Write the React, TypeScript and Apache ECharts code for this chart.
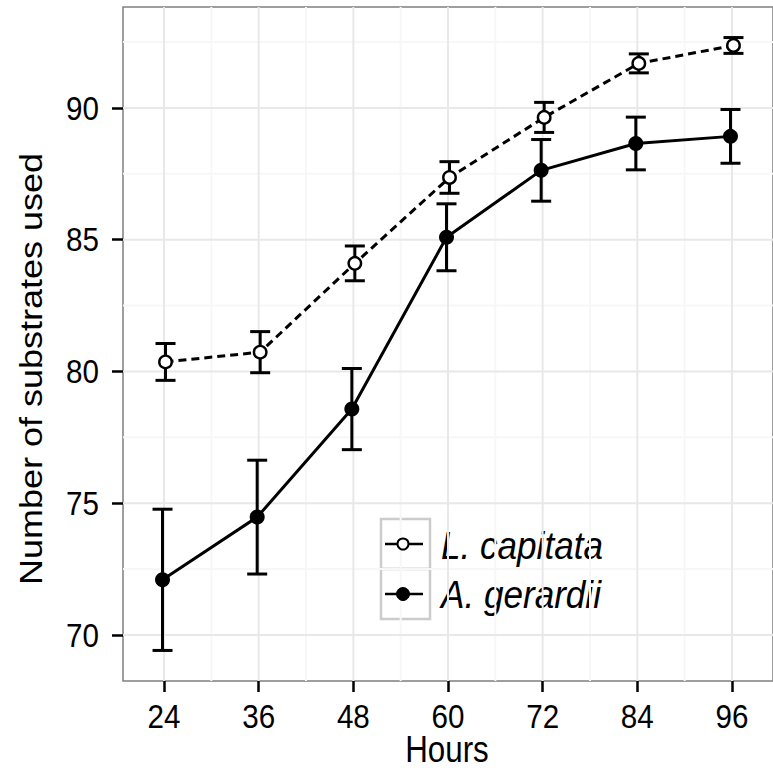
import React, { useEffect, useRef } from "react";
import * as echarts from "echarts";

const hours = [24, 36, 48, 60, 72, 84, 96];
const seriesNames = ["L. capitata", "A. gerardii"];
const capitataMean = [80.36, 80.73, 84.1, 87.36, 89.64, 91.69, 92.37];
const capitataErr = [0.7, 0.78, 0.66, 0.6, 0.57, 0.36, 0.3];
const gerardiiMean = [72.09, 74.47, 78.57, 85.09, 87.63, 88.65, 88.92];
const gerardiiErr = [2.68, 2.16, 1.54, 1.27, 1.17, 1.0, 1.02];
const yTicks = [70, 75, 80, 85, 90];
const xTitle = "Hours";
const yTitle = "Number of substrates used";

const FONT = "'Liberation Sans', Arial, Helvetica, sans-serif";
const DODGE = 0.19;
const SQUEEZE = 0.87;

function midpoints(arr: number[], step: number): number[] {
  const out: number[] = [];
  for (let i = 0; i < arr.length - 1; i++) out.push((arr[i] + arr[i + 1]) / 2);
  out.push(arr[arr.length - 1] + step / 2);
  return out;
}

export default function App() {
  const ref = useRef<HTMLDivElement>(null);
  useEffect(() => {
    if (!ref.current) return;
    const chart = echarts.init(ref.current, null, { renderer: "svg" });
    const xMin = 18.8, xMax = 101.2, yMin = 68.25, yMax = 93.83;
    const xMinor = midpoints(hours, 12).filter((v) => v > xMin && v < xMax);
    const yMinor = midpoints(yTicks, 5).filter((v) => v > yMin && v < yMax);

    const capData = hours.map((h, i) => [h + DODGE, capitataMean[i]]);
    const gerData = hours.map((h, i) => [h - DODGE, gerardiiMean[i]]);
    const capErr = hours.map((h, i) => [h + DODGE, capitataMean[i] - capitataErr[i], capitataMean[i] + capitataErr[i]]);
    const gerErr = hours.map((h, i) => [h - DODGE, gerardiiMean[i] - gerardiiErr[i], gerardiiMean[i] + gerardiiErr[i]]);

    const errRender = (params: any, api: any) => {
      const x = api.value(0);
      const lo = api.coord([x, api.value(1)]);
      const hi = api.coord([x, api.value(2)]);
      const hw = 10;
      const style = { stroke: "#000", lineWidth: 3 };
      return {
        type: "group",
        children: [
          { type: "line", shape: { x1: lo[0], y1: lo[1], x2: hi[0], y2: hi[1] }, style },
          { type: "line", shape: { x1: lo[0] - hw, y1: lo[1], x2: lo[0] + hw, y2: lo[1] }, style },
          { type: "line", shape: { x1: hi[0] - hw, y1: hi[1], x2: hi[0] + hw, y2: hi[1] }, style },
        ],
      };
    };

    const gridRender = (params: any, api: any) => {
      const cs = params.coordSys;
      const children: any[] = [];
      const minorStyle = { stroke: "#f7f7f7", lineWidth: 2 };
      const majorStyle = { stroke: "#e8e8e8", lineWidth: 2 };
      yMinor.forEach((v) => {
        const p = api.coord([xMin, v]);
        children.push({ type: "line", shape: { x1: cs.x, y1: p[1], x2: cs.x + cs.width, y2: p[1] }, style: minorStyle });
      });
      xMinor.forEach((v) => {
        const p = api.coord([v, yMin]);
        children.push({ type: "line", shape: { x1: p[0], y1: cs.y, x2: p[0], y2: cs.y + cs.height }, style: minorStyle });
      });
      yTicks.forEach((v) => {
        const p = api.coord([xMin, v]);
        children.push({ type: "line", shape: { x1: cs.x, y1: p[1], x2: cs.x + cs.width, y2: p[1] }, style: majorStyle });
      });
      hours.forEach((v) => {
        const p = api.coord([v, yMin]);
        children.push({ type: "line", shape: { x1: p[0], y1: cs.y, x2: p[0], y2: cs.y + cs.height }, style: majorStyle });
      });
      return { type: "group", children };
    };

    const labelRender = (params: any, api: any) => {
      const cs = params.coordSys;
      const children: any[] = [];
      hours.forEach((v) => {
        const p = api.coord([v, yMin]);
        children.push({
          type: "text",
          x: p[0],
          y: cs.y + cs.height + 35,
          scaleX: SQUEEZE,
          style: { text: String(v), fontSize: 34, fontFamily: FONT, fill: "#000", align: "center", verticalAlign: "middle" },
        });
      });
      yTicks.forEach((v) => {
        const p = api.coord([xMin, v]);
        children.push({
          type: "text",
          x: cs.x - 24,
          y: p[1],
          scaleX: SQUEEZE,
          style: { text: String(v), fontSize: 34, fontFamily: FONT, fill: "#000", align: "right", verticalAlign: "middle" },
        });
      });
      return { type: "group", children };
    };

    const keyW = 49;
    const keyH = 50;
    const legendText = (name: string, cy: number) => ({
      type: "text",
      x: 60,
      y: cy,
      scaleX: 0.9,
      style: { text: name, fontSize: 39, fontStyle: "italic", fontFamily: FONT, fill: "#000", verticalAlign: "middle", align: "left" },
    });

    const option: any = {
      animation: false,
      backgroundColor: "#ffffff",
      grid: {
        left: 123,
        top: 7,
        width: 661,
        height: 674,
        show: true,
        borderColor: "#7f7f7f",
        borderWidth: 1.5,
        backgroundColor: "#ffffff",
      },
      xAxis: {
        type: "value",
        min: xMin,
        max: xMax,
        axisLine: { show: false },
        axisTick: { show: true, customValues: hours, length: 11, lineStyle: { color: "#000", width: 2.5 } },
        axisLabel: { show: false },
        splitLine: { show: false },
      },
      yAxis: {
        type: "value",
        min: yMin,
        max: yMax,
        axisLine: { show: false },
        axisTick: { show: true, customValues: yTicks, length: 11, lineStyle: { color: "#000", width: 2.5 } },
        axisLabel: { show: false },
        splitLine: { show: false },
      },
      series: [
        {
          type: "custom",
          name: "grid",
          renderItem: gridRender,
          data: [[xMin, yMin]],
          z: 0,
          silent: true,
        },
        {
          type: "custom",
          name: "tick labels",
          renderItem: labelRender,
          data: [[xMin, yMin]],
          clip: false,
          z: 1,
          silent: true,
        },
        {
          type: "custom",
          name: seriesNames[0] + " err",
          renderItem: errRender,
          encode: { x: 0, y: [1, 2] },
          data: capErr,
          z: 2,
        },
        {
          type: "custom",
          name: seriesNames[1] + " err",
          renderItem: errRender,
          encode: { x: 0, y: [1, 2] },
          data: gerErr,
          z: 2,
        },
        {
          type: "line",
          name: seriesNames[0],
          data: capData,
          symbol: "circle",
          symbolSize: 12.5,
          showAllSymbol: true,
          lineStyle: { color: "#000", width: 3, type: [8, 5] },
          itemStyle: { color: "#ffffff", borderColor: "#000", borderWidth: 2.4 },
          z: 3,
        },
        {
          type: "line",
          name: seriesNames[1],
          data: gerData,
          symbol: "circle",
          symbolSize: 15,
          showAllSymbol: true,
          lineStyle: { color: "#000", width: 3 },
          itemStyle: { color: "#000", borderColor: "#000", borderWidth: 0 },
          z: 3,
        },
      ],
      graphic: [
        {
          type: "text",
          x: 447,
          y: 749,
          scaleX: SQUEEZE,
          style: { text: xTitle, fontSize: 36, fontFamily: FONT, fill: "#000", align: "center", verticalAlign: "middle" },
        },
        {
          type: "text",
          x: 31,
          y: 369,
          rotation: Math.PI / 2,
          scaleY: SQUEEZE,
          style: { text: yTitle, fontSize: 36, fontFamily: FONT, fill: "#000", align: "center", verticalAlign: "middle" },
        },
        {
          type: "group",
          x: 381,
          y: 519,
          children: [
            { type: "rect", shape: { x: 0, y: 0, width: keyW, height: keyH }, style: { fill: "#fff", stroke: "#cccccc", lineWidth: 2.5 } },
            { type: "rect", shape: { x: 0, y: keyH, width: keyW, height: keyH }, style: { fill: "#fff", stroke: "#cccccc", lineWidth: 2.5 } },
            { type: "line", shape: { x1: 4, y1: keyH / 2, x2: 42, y2: keyH / 2 }, style: { stroke: "#000", lineWidth: 2.5 } },
            { type: "circle", z: 10, shape: { cx: 22, cy: keyH / 2, r: 5.5 }, style: { fill: "#ffffff", stroke: "#000000", lineWidth: 2 } },
            { type: "line", shape: { x1: 4, y1: keyH * 1.5, x2: 42, y2: keyH * 1.5 }, style: { stroke: "#000", lineWidth: 2.5 } },
            { type: "circle", z: 10, shape: { cx: 22, cy: keyH * 1.5, r: 6.5 }, style: { fill: "#000000", stroke: "#000000", lineWidth: 1 } },
            legendText(seriesNames[0], keyH / 2 + 1),
            legendText(seriesNames[1], keyH * 1.5),
          ],
        },
      ],
    };
    chart.setOption(option);
    return () => chart.dispose();
  }, []);
  return <div ref={ref} style={{ position: "fixed", left: 0, top: 0, width: 773, height: 770 }} />;
}
